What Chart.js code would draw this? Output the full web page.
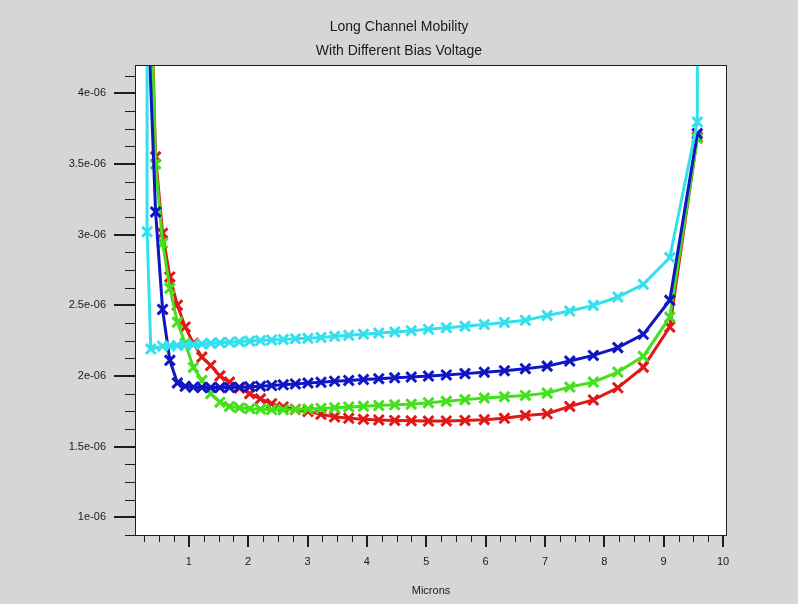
<!DOCTYPE html>
<html>
<head>
<meta charset="utf-8">
<script src="https://cdn.jsdelivr.net/npm/chart.js@4.4.1/dist/chart.umd.min.js"></script>
<style>
  html, body { margin: 0; padding: 0; background: #d6d6d6; }
  #wrap { width: 798px; height: 604px; }
</style>
</head>
<body>
<div id="wrap"><canvas id="mobility" width="798" height="604"></canvas></div>
<script>
// mesh positions along the channel (microns)
var microns = [0.327, 0.44, 0.558, 0.68, 0.807, 0.939, 1.077, 1.22, 1.369, 1.524, 1.685, 1.852, 2.026, 2.207, 2.395, 2.591, 2.795, 3.007, 3.227, 3.456, 3.694, 3.942, 4.2, 4.468, 4.747, 5.037, 5.338, 5.652, 5.978, 6.317, 6.67, 7.037, 7.418, 7.815, 8.228, 8.657, 9.103, 9.567];
var cyanMicrons = [0.295, 0.297, 0.36, 0.558, 0.68, 0.807, 0.939, 1.077, 1.22, 1.369, 1.524, 1.685, 1.852, 2.026, 2.207, 2.395, 2.591, 2.795, 3.007, 3.227, 3.456, 3.694, 3.942, 4.2, 4.468, 4.747, 5.037, 5.338, 5.652, 5.978, 6.317, 6.67, 7.037, 7.418, 7.815, 8.228, 8.657, 9.103, 9.567, 9.6];

// mobility, in units of 1e-06
var redVals = [5.3, 3.55, 3.01, 2.70, 2.50, 2.346, 2.23, 2.133, 2.074, 2.0, 1.956, 1.915, 1.874, 1.838, 1.803, 1.78, 1.763, 1.748, 1.728, 1.71, 1.7, 1.693, 1.688, 1.685, 1.682, 1.68, 1.681, 1.685, 1.69, 1.7, 1.72, 1.732, 1.784, 1.83, 1.916, 2.062, 2.346, 3.69];
var greenVals = [5.2, 3.5, 2.94, 2.62, 2.38, 2.23, 2.06, 1.968, 1.874, 1.814, 1.784, 1.774, 1.768, 1.764, 1.762, 1.761, 1.762, 1.766, 1.77, 1.775, 1.78, 1.785, 1.79, 1.795, 1.8, 1.81, 1.82, 1.832, 1.843, 1.853, 1.862, 1.878, 1.921, 1.956, 2.027, 2.138, 2.416, 3.68];
var blueVals = [4.4, 3.16, 2.47, 2.11, 1.95, 1.926, 1.92, 1.918, 1.917, 1.917, 1.918, 1.92, 1.923, 1.927, 1.932, 1.937, 1.943, 1.949, 1.955, 1.962, 1.968, 1.974, 1.98, 1.986, 1.992, 1.999, 2.007, 2.016, 2.026, 2.037, 2.051, 2.069, 2.105, 2.145, 2.2, 2.294, 2.535, 3.715];
var cyanVals = [14, 3.02, 2.19, 2.21, 2.212, 2.215, 2.218, 2.222, 2.226, 2.23, 2.234, 2.238, 2.242, 2.246, 2.25, 2.254, 2.258, 2.262, 2.266, 2.272, 2.28, 2.287, 2.295, 2.303, 2.311, 2.32, 2.33, 2.341, 2.352, 2.364, 2.378, 2.393, 2.428, 2.459, 2.499, 2.558, 2.648, 2.837, 3.797, 14];

var xTicks = [1, 2, 3, 4, 5, 6, 7, 8, 9, 10];
var yTicks = [1, 1.5, 2, 2.5, 3, 3.5, 4];
var yTickLabels = ['1e-06', '1.5e-06', '2e-06', '2.5e-06', '3e-06', '3.5e-06', '4e-06'];

function pts(xs, ys) {
  return xs.map(function (x, i) { return { x: x, y: ys[i] }; });
}

function series(label, xs, ys, color, order) {
  return {
    label: label,
    data: pts(xs, ys),
    borderColor: color,
    backgroundColor: color,
    borderWidth: 3,
    pointStyle: 'crossRot',
    pointRadius: 7,
    pointBorderWidth: 3,
    pointBorderColor: color,
    order: order
  };
}

// gray page, white plot box, frame and tick marks like the original plot
var framePlugin = {
  id: 'framePlugin',
  beforeDraw: function (chart) {
    var c = chart.ctx, a = chart.chartArea;
    c.save();
    c.fillStyle = '#d6d6d6';
    c.fillRect(0, 0, chart.width, chart.height);
    c.fillStyle = '#ffffff';
    c.fillRect(a.left, a.top, a.right - a.left, a.bottom - a.top);
    c.restore();
  },
  afterDraw: function (chart) {
    var c = chart.ctx, a = chart.chartArea;
    var xs = chart.scales.x, ys = chart.scales.y;
    c.save();
    c.strokeStyle = '#1e1e1e';
    c.lineWidth = 1;
    c.strokeRect(a.left - 0.5, a.top - 0.5, a.right - a.left + 1, a.bottom - a.top + 1);

    var v, p;
    // x minor / major ticks
    for (v = 0.25; v <= 10.001; v += 0.25) {
      p = Math.round(xs.getPixelForValue(v));
      if (p < a.left || p > a.right) continue;
      var major = Math.abs(v - Math.round(v)) < 0.001;
      c.lineWidth = major ? 2 : 1;
      if (!major) p += 0.5;
      c.beginPath();
      c.moveTo(p, a.bottom);
      c.lineTo(p, a.bottom + (major ? 12 : 7));
      c.stroke();
    }
    // y minor / major ticks
    for (v = 0.875; v <= 4.2; v += 0.125) {
      p = Math.round(ys.getPixelForValue(v));
      if (p < a.top - 1 || p > a.bottom + 1) continue;
      var maj = Math.abs(v * 2 - Math.round(v * 2)) < 0.001;
      c.lineWidth = maj ? 2 : 1;
      if (!maj) p += 0.5;
      c.beginPath();
      c.moveTo(a.left, p);
      c.lineTo(a.left - (maj ? 22 : 11), p);
      c.stroke();
    }
    c.restore();
  }
};

var ctx = document.getElementById('mobility').getContext('2d');
var mobilityChart = new Chart(ctx, {
  type: 'line',
  data: {
    datasets: [
      series('red', microns, redVals, '#e01818', 4),
      series('green', microns, greenVals, '#44e01c', 3),
      series('blue', microns, blueVals, '#1016c4', 2),
      series('cyan', cyanMicrons, cyanVals, '#34e0ec', 1)
    ]
  },
  options: {
    responsive: false,
    animation: false,
    devicePixelRatio: 1,
    layout: { padding: 0 },
    plugins: {
      legend: { display: false },
      tooltip: { enabled: false },
      title: {
        display: true,
        text: ['Long Channel Mobility', 'With Different Bias Voltage'],
        color: '#1a1a1a',
        font: { family: 'Liberation Sans', size: 14, weight: 'normal', lineHeight: 1.714 },
        padding: { top: 15, bottom: 3 }
      }
    },
    scales: {
      x: {
        type: 'linear',
        position: 'bottom',
        min: 0.11,
        max: 10.05,
        afterBuildTicks: function (s) { s.ticks = xTicks.map(function (v) { return { value: v }; }); },
        afterFit: function (s) { s.height = 69; },
        grid: { display: false, drawTicks: false },
        border: { display: false },
        ticks: {
          color: '#1a1a1a',
          font: { family: 'Liberation Sans', size: 11 },
          padding: 20,
          maxRotation: 0,
          autoSkip: false
        },
        title: {
          display: true,
          text: 'Microns',
          color: '#1a1a1a',
          font: { family: 'Liberation Sans', size: 11 },
          padding: { top: 0, bottom: 6 }
        }
      },
      y: {
        type: 'linear',
        position: 'left',
        min: 0.874,
        max: 4.193,
        afterBuildTicks: function (s) { s.ticks = yTicks.map(function (v) { return { value: v }; }); },
        afterFit: function (s) { s.width = 136; },
        grid: { display: false, drawTicks: false },
        border: { display: false },
        ticks: {
          color: '#1a1a1a',
          font: { family: 'Liberation Sans', size: 11 },
          padding: 30,
          autoSkip: false,
          callback: function (v) {
            var i = yTicks.indexOf(v);
            return i >= 0 ? yTickLabels[i] : '';
          }
        }
      },
      yRight: {
        type: 'linear',
        position: 'right',
        display: true,
        afterFit: function (s) { s.width = 72; },
        grid: { display: false, drawTicks: false },
        border: { display: false },
        ticks: { display: false }
      }
    }
  },
  plugins: [framePlugin]
});
</script>
</body>
</html>
